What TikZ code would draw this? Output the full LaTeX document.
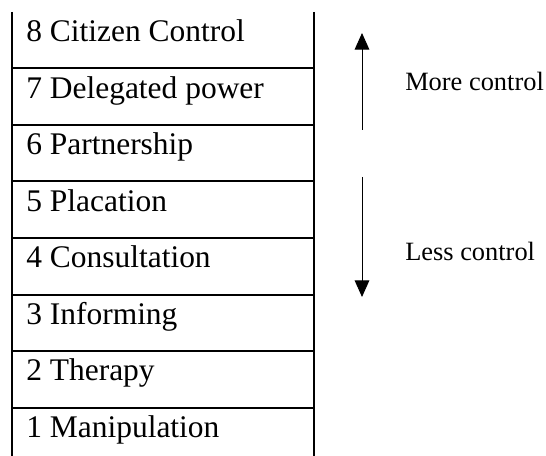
\documentclass[tikz,border=0pt]{standalone}
\usepackage{fontspec}
\setmainfont{Liberation Serif}
\usetikzlibrary{arrows.meta}
\begin{document}
\begin{tikzpicture}[x=0.75pt,y=0.75pt,yscale=-1,xscale=1,
	rung/.style={anchor=base west,inner sep=0pt,font=\fontsize{23.6}{28}\selectfont},
	side/.style={anchor=base west,inner sep=0pt,font=\fontsize{19.8}{24}\selectfont},
	ladder/.style={line width=1.5pt},
	trend/.style={line width=0.75pt,-{Triangle[length=12.5pt,width=11pt]}}]
	%set diagram size
	\path[use as bounding box] (0,0) rectangle (546,456);
	
	%Straight Lines: sides of the ladder
	\draw [ladder] (12,12) -- (12,456);
	\draw [ladder] (313.7,12) -- (313.7,456);
	%Straight Lines: steps
	\draw [ladder] (12,68.5) -- (313.7,68.5);
	\draw [ladder] (12,125) -- (313.7,125);
	\draw [ladder] (12,181.5) -- (313.7,181.5);
	\draw [ladder] (12,238) -- (313.7,238);
	\draw [ladder] (12,294.5) -- (313.7,294.5);
	\draw [ladder] (12,351) -- (313.7,351);
	\draw [ladder] (12,407.5) -- (313.7,407.5);
	
	% Text Node
	\node [rung] (citizen) at (26,41.7) {8 Citizen Control};
	% Text Node
	\node [rung] (delegated) at (26,98.2) {7 Delegated power};
	% Text Node
	\node [rung] (partnership) at (26,154.7) {6 Partnership};
	% Text Node
	\node [rung] (placation) at (26,211.2) {5 Placation};
	% Text Node
	\node [rung] (consultation) at (26,267.7) {4 Consultation};
	% Text Node
	\node [rung] (informing) at (26,324.2) {3 Informing};
	% Text Node
	\node [rung] (therapy) at (26,380.7) {2 Therapy};
	% Text Node
	\node [rung] (manipulation) at (26,437.2) {1 Manipulation};
	
	%Arrows
	\coordinate (morebot) at (362,130);
	\coordinate (moretop) at (362,33);
	\coordinate (lesstop) at (362,177);
	\coordinate (lessbot) at (362,297);
	\draw [trend] (morebot) -- (moretop);
	\draw [trend] (lesstop) -- (lessbot);
	
	% Text Node
	\node [side] (more) at (405,90.7) {More control};
	% Text Node
	\node [side] (less) at (405,260) {Less control};
\end{tikzpicture}
\end{document}
